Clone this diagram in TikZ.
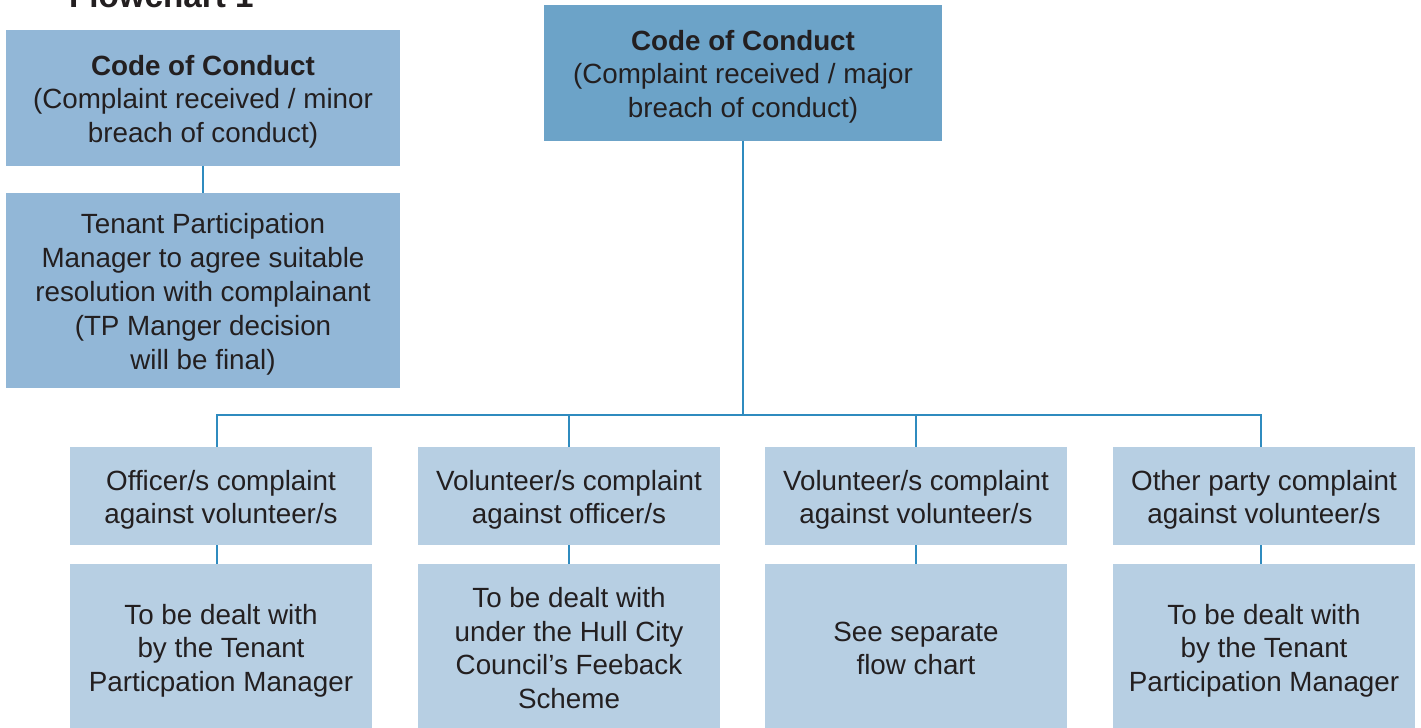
\documentclass[tikz,border=0pt]{standalone}
\usepackage{fontspec}
\setmainfont{Liberation Sans}
\definecolor{boxlight}{HTML}{B7CFE3}
\definecolor{boxmid}{HTML}{92B7D7}
\definecolor{boxdark}{HTML}{6CA3C8}
\definecolor{linecol}{HTML}{2F8BBF}
\definecolor{txt}{HTML}{231F20}
\newcommand\ls{\rule[-0.212em]{0pt}{1.212em}}
\begin{document}
\begin{tikzpicture}[x=0.5pt,y=-0.5pt,
  box/.style={rectangle, inner sep=0pt, align=center, text=txt,
    font=\fontsize{13.9}{16.9}\selectfont},
  lightbox/.style={box, fill=boxlight, minimum width=151pt},
  link/.style={draw=linecol, line width=1.35pt}]
\useasboundingbox (0,0) rectangle (1421,728);
\node[anchor=base west, text=txt, font=\fontsize{16.6}{20}\selectfont\bfseries] (title) at (62,7) {Flowchart 1};
% left column
\node[box, fill=boxmid, minimum width=197pt, minimum height=68pt] (A) at (203,98)
  {\ls\textbf{Code of Conduct}\\(Complaint received / minor\\breach of conduct)\ls};
\node[box, fill=boxmid, minimum width=197pt, minimum height=97.5pt] (B) at (203,290.5)
  {\ls Tenant Participation\\Manager to agree suitable\\resolution with complainant\\(TP Manger decision\\will be final)\ls};
% top center
\node[box, fill=boxdark, minimum width=199pt, minimum height=68pt] (C) at (743,73)
  {\ls\textbf{Code of Conduct}\\(Complaint received / major\\breach of conduct)\ls};
% row 1
\node[lightbox, minimum height=49pt] (r11) at (221,496) {\ls Officer/s complaint\\against volunteer/s\ls};
\node[lightbox, minimum height=49pt] (r12) at (569,496) {\ls Volunteer/s complaint\\against officer/s\ls};
\node[lightbox, minimum height=49pt] (r13) at (916,496) {\ls Volunteer/s complaint\\against volunteer/s\ls};
\node[lightbox, minimum height=49pt] (r14) at (1264,496) {\ls Other party complaint\\against volunteer/s\ls};
% row 2
\node[lightbox, minimum height=83pt] (r21) at (221,647) {\ls To be dealt with\\by the Tenant\\Particpation Manager\ls};
\node[lightbox, minimum height=83pt] (r22) at (569,647) {\ls To be dealt with\\under the Hull City\\Council’s Feeback\\Scheme\ls};
\node[lightbox, minimum height=83pt] (r23) at (916,647) {\ls See separate\\flow chart\ls};
\node[lightbox, minimum height=83pt] (r24) at (1264,647) {\ls To be dealt with\\by the Tenant\\Participation Manager\ls};
% connectors
\coordinate (bus) at (743,415);
\coordinate (d1) at ([xshift=-2pt]r11.north);
\coordinate (d4) at ([xshift=-1.5pt]r14.north);
\draw[link] (A.south) -- (B.north);
\draw[link] (C.south) -- (bus);
\draw[link, line join=miter] (d1) -- (d1 |- bus) -- (d4 |- bus) -- (d4);
\draw[link] (r12.north) -- (r12.north |- bus);
\draw[link] (r13.north) -- (r13.north |- bus);
\draw[link] ([xshift=-2pt]r11.south) -- ([xshift=-2pt]r21.north);
\draw[link] (r12.south) -- (r22.north);
\draw[link] (r13.south) -- (r23.north);
\draw[link] ([xshift=-1.5pt]r14.south) -- ([xshift=-1.5pt]r24.north);
\end{tikzpicture}
\end{document}
